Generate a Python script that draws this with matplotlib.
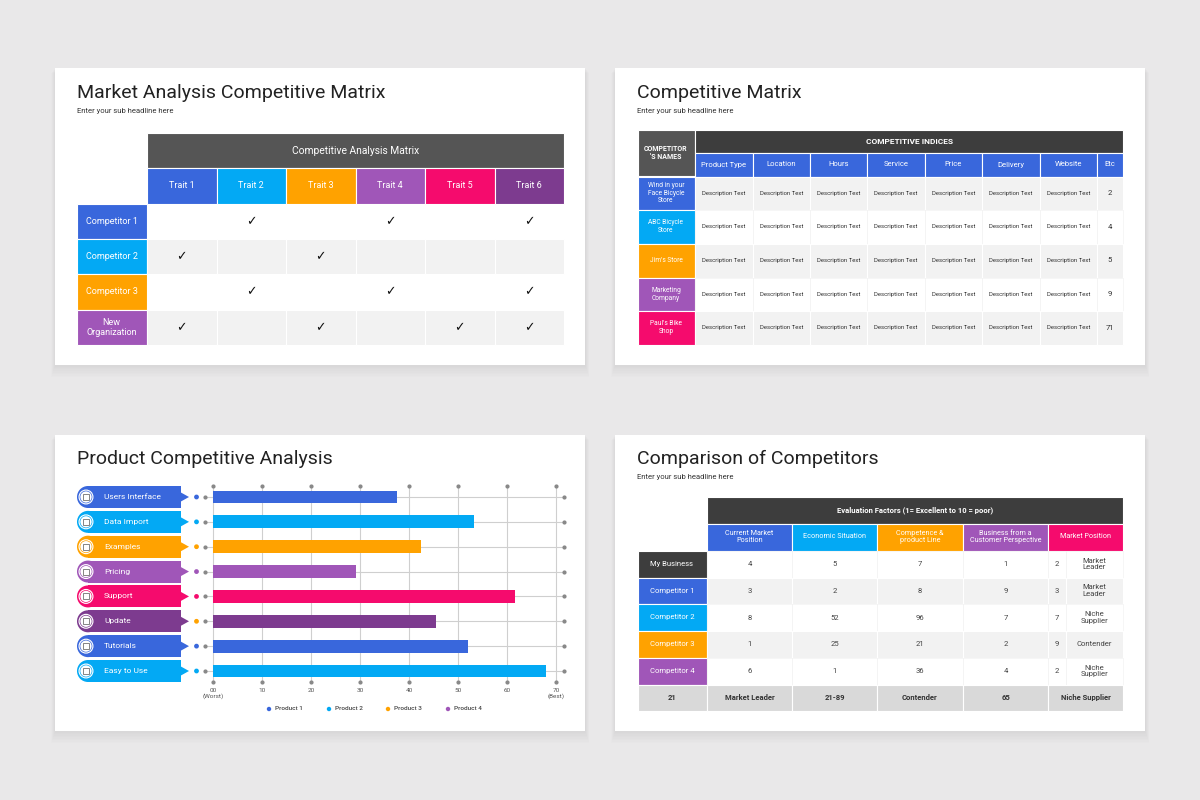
import matplotlib
matplotlib.use("Agg")
import matplotlib.pyplot as plt
from matplotlib.patches import Rectangle, Circle, Polygon

plt.rcParams['font.family'] = ['Roboto', 'DejaVu Sans']

# colours
BLUE = '#3967dc'
CYAN = '#03a9f4'
ORANGE = '#ffa200'
PURPLE = '#a056b8'
PINK = '#f50b6d'
DPURPLE = '#7d3b8f'
DARK = '#3d3d3d'
GREY_ROW = '#f2f2f2'

# ---- panel 1: market analysis matrix
traits = ['Trait 1', 'Trait 2', 'Trait 3', 'Trait 4', 'Trait 5', 'Trait 6']
trait_colors = [BLUE, CYAN, ORANGE, PURPLE, PINK, DPURPLE]
competitors = ['Competitor 1', 'Competitor 2', 'Competitor 3', 'New\nOrganization']
competitor_colors = [BLUE, CYAN, ORANGE, PURPLE]
checks = [
    [0, 1, 0, 1, 0, 1],
    [1, 0, 1, 0, 0, 0],
    [0, 1, 0, 1, 0, 1],
    [1, 0, 1, 0, 1, 1],
]

# ---- panel 2: competitive matrix
indices = ['Product Type', 'Location', 'Hours', 'Service', 'Price', 'Delivery', 'Website', 'Etc']
stores = ['Wind in your\nFace Bicycle\nStore', 'ABC Bicycle\nStore', "Jim's Store",
          'Marketing\nCompany', "Paul's Bike\nShop"]
store_colors = [BLUE, CYAN, ORANGE, PURPLE, PINK]
etc_values = [2, 4, 5, 9, 71]

# ---- panel 3: product competitive analysis
features = ['Users Interface', 'Data Import', 'Examples', 'Pricing',
            'Support', 'Update', 'Tutorials', 'Easy to Use']
feature_colors = [BLUE, CYAN, ORANGE, PURPLE, PINK, DPURPLE, BLUE, CYAN]
dot_colors = [BLUE, CYAN, ORANGE, PURPLE, PINK, ORANGE, BLUE, CYAN]
scores = [37.5, 53.2, 42.5, 29.2, 61.7, 45.5, 52.0, 68.0]
tick_values = [0, 10, 20, 30, 40, 50, 60, 70]
tick_labels = ['00\n(Worst)', '10', '20', '30', '40', '50', '60', '70\n(Best)']
products = ['Product 1', 'Product 2', 'Product 3', 'Product 4']
product_colors = [BLUE, CYAN, ORANGE, PURPLE]

# ---- panel 4: comparison of competitors
factors = ['Current Market\nPosition', 'Economic Situation', 'Competence &\nproduct Line',
           'Business from a\nCustomer Perspective', 'Market Position']
factor_colors = [BLUE, CYAN, ORANGE, PURPLE, PINK]
businesses = ['My Business', 'Competitor 1', 'Competitor 2', 'Competitor 3', 'Competitor 4']
business_colors = [DARK, BLUE, CYAN, ORANGE, PURPLE]
market_position = [4, 3, 8, 1, 6]
economic = [5, 2, 52, 25, 1]
competence = [7, 8, 96, 21, 36]
customer = [1, 9, 7, 2, 4]
position_rank = [2, 3, 7, 9, 2]
position_label = ['Market\nLeader', 'Market\nLeader', 'Niche\nSupplier', 'Contender', 'Niche\nSupplier']
footer = ['21', 'Market Leader', '21-89', 'Contender', '65', 'Niche Supplier']


fig = plt.figure(figsize=(12, 8), dpi=100)
fig.patch.set_facecolor('#e9e8e9')
ax = fig.add_axes([0, 0, 1, 1])
ax.set_xlim(0, 1200)
ax.set_ylim(800, 0)
ax.axis('off')


def box(x0, y0, x1, y1, color, edge='white', lw=0.8, z=2):
    ax.add_patch(Rectangle((x0, y0), x1 - x0, y1 - y0, facecolor=color,
                           edgecolor=edge, linewidth=lw, zorder=z))


def label(x, y, s, size=6, color='white', weight='normal', ha='center', **kw):
    ax.text(x, y, s, fontsize=size, color=color, weight=weight, ha=ha,
            va='center', zorder=6, linespacing=1.15, **kw)


def card(x0, y0, x1, y1):
    # soft shadow
    for k in range(1, 9):
        ax.add_patch(Rectangle((x0 - k * 0.5, y0 + k * 0.6), x1 - x0 + k, y1 - y0 + k * 0.9,
                               facecolor='black', alpha=0.006, linewidth=0, zorder=0))
    box(x0, y0, x1, y1, 'white', edge='none', z=1)


def heading(x, y, title, sub=None):
    ax.text(x, y, title, fontsize=14, color='#222222', va='baseline', zorder=6)
    if sub:
        ax.text(x, y + 15, sub, fontsize=5.5, color='#333333', va='baseline', zorder=6)


for cx0, cy0, cx1, cy1 in [(55, 68, 585, 365), (615, 68, 1145, 365),
                           (55, 435, 585, 731), (615, 435, 1145, 731)]:
    card(cx0, cy0, cx1, cy1)

# ================= panel 1
heading(77, 98, 'Market Analysis Competitive Matrix', 'Enter your sub headline here')
x1s = [147 + 69.5 * i for i in range(len(traits) + 1)]
y1s = [133, 168, 203.5, 239, 274, 309.5, 345]
box(x1s[0], y1s[0], x1s[-1], y1s[1], '#555555')
label((x1s[0] + x1s[-1]) / 2, (y1s[0] + y1s[1]) / 2, 'Competitive Analysis Matrix', size=7.4)
for i, (t, c) in enumerate(zip(traits, trait_colors)):
    box(x1s[i], y1s[1], x1s[i + 1], y1s[2], c)
    label((x1s[i] + x1s[i + 1]) / 2, (y1s[1] + y1s[2]) / 2, t, size=6.5)
for r, (name, c) in enumerate(zip(competitors, competitor_colors)):
    ya, yb = y1s[r + 2], y1s[r + 3]
    box(77, ya, 146.5, yb, c)
    label(111.5, (ya + yb) / 2, name, size=6.5)
    for i in range(len(traits)):
        if r % 2 == 1:
            box(x1s[i], ya, x1s[i + 1], yb, GREY_ROW)
        if checks[r][i]:
            ax.text((x1s[i] + x1s[i + 1]) / 2, (ya + yb) / 2, '\u2713', fontsize=9,
                    family='DejaVu Sans', ha='center', va='center', color='#111111', zorder=6)

# ================= panel 2
heading(637, 98, 'Competitive Matrix', 'Enter your sub headline here')
x2s = [695, 753, 810, 867, 925, 982, 1040, 1097, 1123]
y2s = [176.5, 210, 243.5, 277.5, 311, 344.5]
box(638, 130, 694.5, 176, '#555555')
label(666, 153, "COMPETITOR\n'S NAMES", size=5, weight='bold')
box(695, 130, 1123, 152.5, DARK)
label(909, 141.5, 'COMPETITIVE INDICES', size=6, weight='bold')
for i, h in enumerate(indices):
    box(x2s[i], 152.5, x2s[i + 1], 176.5, BLUE)
    label((x2s[i] + x2s[i + 1]) / 2, 164.5, h, size=5.5)
for r, (name, c) in enumerate(zip(stores, store_colors)):
    ya, yb = y2s[r], y2s[r + 1]
    box(638, ya, 694.5, yb, c)
    label(666, (ya + yb) / 2, name, size=4.8)
    for i in range(len(indices)):
        if r % 2 == 0:
            box(x2s[i], ya, x2s[i + 1], yb, GREY_ROW)
        else:
            box(x2s[i], ya, x2s[i + 1], yb, 'white', edge='#f0f0f0', lw=0.4)
        xm = (x2s[i] + x2s[i + 1]) / 2
        if i < len(indices) - 1:
            label(xm, (ya + yb) / 2, 'Description Text', size=4.35, color='#333333')
        else:
            label(xm, (ya + yb) / 2, str(etc_values[r]), size=5.5, color='#333333')

# ================= panel 3
heading(77, 464, 'Product Competitive Analysis')
row_y0, row_dy = 497, 24.857
for r, (name, c, dc) in enumerate(zip(features, feature_colors, dot_colors)):
    yc = row_y0 + r * row_dy
    ax.add_patch(Circle((88, yc), 11, facecolor=c, edgecolor='none', zorder=2))
    ax.add_patch(Rectangle((88, yc - 11), 93, 22, facecolor=c, edgecolor='none', zorder=2))
    ax.add_patch(Polygon([(180, yc - 5), (189, yc), (180, yc + 5)], closed=True,
                         facecolor=c, edgecolor='none', zorder=2))
    ax.add_patch(Circle((86, yc), 7.5, facecolor='white', edgecolor='none', zorder=3))
    ax.add_patch(Circle((86, yc), 6, facecolor='none', edgecolor=c, linewidth=0.5, zorder=4))
    ax.add_patch(Rectangle((83, yc - 3), 6, 6, facecolor='none', edgecolor='#555555',
                           linewidth=0.5, zorder=4))
    label(104, yc, name, size=6, ha='left')
    ax.add_patch(Circle((196.5, yc), 2.4, facecolor=dc, edgecolor='none', zorder=4))

# legend
for px, name, c in zip([269, 329, 388, 448], products, product_colors):
    ax.add_patch(Circle((px, 709), 2.2, facecolor=c, edgecolor='none', zorder=4))
    label(px + 6, 709, name, size=4.6, color='#444444', ha='left', weight='medium')

# bar chart axes (value 0 at x=213, 70 at x=556)
px_per = (556 - 213) / 70
x_lo, x_hi = (205 - 213) / px_per, (564 - 213) / px_per
y_top, y_bot = (486 - row_y0) / row_dy, (682 - row_y0) / row_dy
bx = fig.add_axes([205 / 1200, 1 - 682 / 800, 359 / 1200, 196 / 800])
bx.set_zorder(2)
bx.patch.set_visible(False)
bx.set_xlim(x_lo, x_hi)
bx.set_ylim(y_bot, y_top)
for s in bx.spines.values():
    s.set_visible(False)
rows = list(range(len(features)))
for v in tick_values:
    bx.plot([v, v], [y_top, y_bot], color='#cfcfcf', lw=0.8, zorder=1)
    bx.plot([v, v], [y_top, y_bot], 'o', ms=2, color='#888888', clip_on=False, zorder=2)
for r in rows:
    bx.plot([x_lo, x_hi], [r, r], color='#cfcfcf', lw=0.8, zorder=1)
    bx.plot([x_lo, x_hi], [r, r], 'o', ms=2, color='#888888', clip_on=False, zorder=2)
bx.barh(rows, scores, height=0.52, color=feature_colors, zorder=3)
bx.set_yticks([])
bx.set_xticks(tick_values)
bx.set_xticklabels(tick_labels)
bx.tick_params(axis='x', length=0, pad=4, labelsize=4.6, labelcolor='#555555')

# ================= panel 4
heading(637, 464, 'Comparison of Competitors', 'Enter your sub headline here')
x4s = [707, 792, 877, 963, 1048, 1123]
split = 1066
y4s = [550.5, 577.5, 604, 631, 657.5, 684.5]
box(707, 497, 1123, 523.5, DARK)
label(915, 510, 'Evaluation Factors (1= Excellent to 10 = poor)', size=5.5, weight='bold')
for i, (f, c) in enumerate(zip(factors, factor_colors)):
    box(x4s[i], 523.5, x4s[i + 1], 550.5, c)
    label((x4s[i] + x4s[i + 1]) / 2, 537, f, size=5.2)
table_cols = [market_position, economic, competence, customer]
for r, (name, c) in enumerate(zip(businesses, business_colors)):
    ya, yb = y4s[r], y4s[r + 1]
    ym = (ya + yb) / 2
    box(638, ya, 706.5, yb, c)
    label(672, ym, name, size=5.5)
    fill = GREY_ROW if r % 2 == 1 else 'white'
    edge = 'white' if r % 2 == 1 else '#f0f0f0'
    lw = 0.8 if r % 2 == 1 else 0.4
    for i in range(4):
        box(x4s[i], ya, x4s[i + 1], yb, fill, edge=edge, lw=lw)
        label((x4s[i] + x4s[i + 1]) / 2, ym, str(table_cols[i][r]), size=5.5, color='#444444')
    box(x4s[4], ya, split, yb, fill, edge=edge, lw=lw)
    box(split, ya, x4s[5], yb, fill, edge=edge, lw=lw)
    label((x4s[4] + split) / 2, ym, str(position_rank[r]), size=5.5, color='#444444')
    label((split + x4s[5]) / 2, ym, position_label[r], size=5.5, color='#444444')
foot_x = [638] + x4s
for i, s in enumerate(footer):
    box(foot_x[i], 684.5, foot_x[i + 1] - (0.5 if i == 0 else 0), 710.5, '#d9d9d9')
    label((foot_x[i] + foot_x[i + 1]) / 2, 697.5, s, size=5.5, color='#333333', weight='bold')

fig.savefig('out.png', dpi=100, facecolor=fig.get_facecolor())
